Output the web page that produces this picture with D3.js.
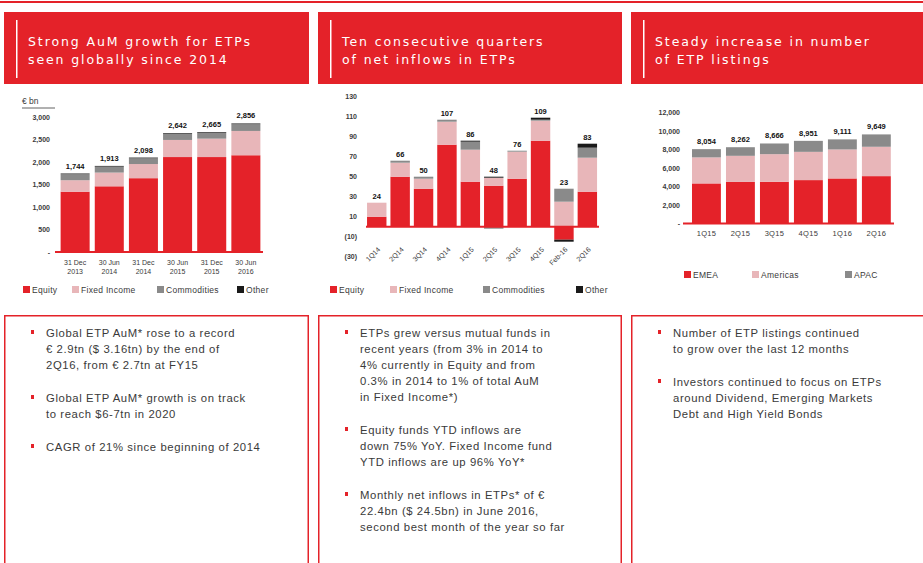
<!DOCTYPE html>
<html><head><meta charset="utf-8">
<script src="https://cdn.jsdelivr.net/npm/d3@7"></script>
<style>
body{margin:0;background:#fff;}
svg{display:block;font-family:"Liberation Sans",Arial,sans-serif;}
</style></head><body>
<svg id="c" width="923" height="563"></svg>
<script>
// ---------------- DATA ----------------
const headerTitles = [
  ["Strong AuM growth for ETPs", "seen globally since 2014"],
  ["Ten consecutive quarters", "of net inflows in ETPs"],
  ["Steady increase in number", "of ETP listings"]
];
const bulletTexts = [
  [["Global ETP AuM* rose to a record", "\u20ac 2.9tn ($ 3.16tn) by the end of", "2Q16, from \u20ac 2.7tn at FY15"],
   ["Global ETP AuM* growth is on track", "to reach $6-7tn in 2020"],
   ["CAGR of 21% since beginning of 2014"]],
  [["ETPs grew versus mutual funds in", "recent years (from 3% in 2014 to", "4% currently in Equity and from", "0.3% in 2014 to 1% of total AuM", "in Fixed Income*)"],
   ["Equity funds YTD inflows are", "down 75% YoY. Fixed Income fund", "YTD inflows are up 96% YoY*"],
   ["Monthly net inflows in ETPs* of \u20ac", "22.4bn ($ 24.5bn) in June 2016,", "second best month of the year so far"]],
  [["Number of ETP listings continued", "to grow over the last 12 months"],
   ["Investors continued to focus on ETPs", "around Dividend, Emerging Markets", "Debt and High Yield Bonds"]]
];

// Chart 1: AuM (EUR bn)
const aumDates = ["31 Dec 2013", "30 Jun 2014", "31 Dec 2014", "30 Jun 2015", "31 Dec 2015", "30 Jun 2016"];
const aumEquity = [1340, 1460, 1640, 2110, 2110, 2150];
const aumFixedIncome = [255, 305, 315, 380, 409, 540];
const aumCommodities = [135, 133, 128, 137, 131, 150];
const aumOther = [14, 15, 15, 15, 15, 16];
const aumTicks = [0, 500, 1000, 1500, 2000, 2500, 3000];

// Chart 2: net inflows (EUR bn)
const flowPeriods = ["1Q14", "2Q14", "3Q14", "4Q14", "1Q15", "2Q15", "3Q15", "4Q15", "Feb-16", "2Q16"];
const flowEquity = [10, 50, 38, 82, 45, 41, 48, 86, -13, 35];
const flowFixedIncome = [14, 14, 10, 23, 32, 8, 27, 20, 25, 34];
const flowCommodities = [0, 2, 2, 2, 8, -2, 1, 1, 13, 10];
const flowOther = [0, 0, 0, 0, 1, 1, 0, 2, -2, 4];
const flowTicks = [-30, -10, 10, 30, 50, 70, 90, 110, 130];

// Chart 3: number of ETP listings
const listPeriods = ["1Q15", "2Q15", "3Q15", "4Q15", "1Q16", "2Q16"];
const listEMEA = [4340, 4500, 4520, 4700, 4880, 5130];
const listAmericas = [2820, 2830, 2990, 3060, 3140, 3180];
const listAPAC = [894, 932, 1156, 1191, 1091, 1339];
const listTicks = [0, 2000, 4000, 6000, 8000, 10000, 12000];

const assetSeries = ["Equity", "Fixed Income", "Commodities", "Other"];
const regionSeries = ["EMEA", "Americas", "APAC"];

// ---------------- STYLE ----------------
const RED = "#e42229", PINK = "#e8b6b9", GRAY = "#8a8a8a", BLACK = "#1a1a1a";
const assetColors = [RED, PINK, GRAY, BLACK];
const regionColors = [RED, PINK, GRAY];
const TXT = "#3a3a3a";

const svg = d3.select("#c");
const panelX = [4, 318, 631];
const panelW = [305, 304, 300];

// top rule
svg.append("rect").attr("x", 0).attr("y", 1).attr("width", 923).attr("height", 2).attr("fill", RED);

// headers
headerTitles.forEach((lines, i) => {
  const g = svg.append("g").attr("transform", `translate(${panelX[i]},12)`);
  g.append("rect").attr("width", panelW[i]).attr("height", 72).attr("fill", RED);
  g.append("rect").attr("x", 12).attr("y", 8).attr("width", 1.5).attr("height", 58).attr("fill", "#fff");
  lines.forEach((t, j) => {
    g.append("text").attr("x", 24).attr("y", 34 + j * 18).attr("fill", "#fff")
      .style("font-family", "'DejaVu Sans',sans-serif").style("font-size", "12.5px")
      .style("letter-spacing", "1.9px").text(t);
  });
});

// bottom boxes
bulletTexts.forEach((bullets, i) => {
  const g = svg.append("g").attr("transform", `translate(${panelX[i]},315)`);
  g.append("rect").attr("x", 0.75).attr("y", 0.75).attr("width", panelW[i] - 1.5).attr("height", 260)
    .attr("fill", "none").attr("stroke", RED).attr("stroke-width", 1.5);
  let y = 22;
  bullets.forEach(lines => {
    g.append("rect").attr("x", 27).attr("y", y - 7).attr("width", 3).attr("height", 4).attr("fill", RED);
    lines.forEach(t => {
      g.append("text").attr("x", 42).attr("y", y).attr("fill", TXT)
        .style("font-size", "11.3px").style("letter-spacing", "0.6px").text(t);
      y += 16;
    });
    y += 17;
  });
});

function legend(g, names, colors, xs, y) {
  names.forEach((n, i) => {
    g.append("rect").attr("x", xs[i]).attr("y", y - 4).attr("width", 7).attr("height", 7).attr("fill", colors[i]);
    g.append("text").attr("x", xs[i] + 9).attr("y", y + 3).attr("fill", TXT)
      .style("font-size", "8.5px").style("letter-spacing", "0.3px").text(n);
  });
}

const fmt = d3.format(",");

// ---------------- CHART 1 ----------------
{
  const rows = aumDates.map((d, i) => ({key: d, "Equity": aumEquity[i], "Fixed Income": aumFixedIncome[i], "Commodities": aumCommodities[i], "Other": aumOther[i]}));
  const x = d3.scaleBand().domain(aumDates).range([55.5, 265.5]).paddingInner(0.15).paddingOuter(0.15);
  const y = d3.scaleLinear().domain([0, 3000]).range([252, 117]);
  const stack = d3.stack().keys(assetSeries)(rows);
  const g = svg.append("g");
  stack.forEach((s, k) => {
    g.selectAll(null).data(s).join("rect")
      .attr("x", d => x(d.data.key)).attr("width", x.bandwidth())
      .attr("y", d => y(d[1])).attr("height", d => y(d[0]) - y(d[1]))
      .attr("fill", assetColors[k]);
  });
  g.append("line").attr("x1", 55).attr("x2", 263).attr("y1", y(0)).attr("y2", y(0)).attr("stroke", RED).attr("stroke-width", 2);
  const ax = d3.axisLeft(y).tickValues(aumTicks).tickSize(0).tickPadding(0)
    .tickFormat(d => d === 0 ? "-" : fmt(d));
  const axg = g.append("g").attr("transform", "translate(50,0)").call(ax);
  axg.select(".domain").remove();
  axg.selectAll("text").attr("fill", TXT).style("font-size", "7px").style("font-weight", "bold").style("font-family", "'Liberation Sans',Arial,sans-serif");
  rows.forEach(r => {
    const tot = assetSeries.reduce((a, k) => a + r[k], 0);
    g.append("text").attr("x", x(r.key) + x.bandwidth() / 2).attr("y", y(tot) - 5).attr("text-anchor", "middle")
      .attr("fill", "#111").style("font-size", "7.5px").style("font-weight", "bold").text(fmt(tot));
    const parts = [r.key.slice(0, 6), r.key.slice(7)];
    parts.forEach((p, j) => g.append("text").attr("x", x(r.key) + x.bandwidth() / 2).attr("y", 265 + j * 9)
      .attr("text-anchor", "middle").attr("fill", TXT).style("font-size", "7px").text(p));
  });
  g.append("text").attr("x", 22).attr("y", 104).attr("fill", TXT).style("font-size", "8.5px").text("\u20ac bn");
  g.append("line").attr("x1", 22).attr("x2", 55).attr("y1", 108).attr("y2", 108).attr("stroke", TXT).attr("stroke-width", 0.8);
  legend(g, assetSeries, assetColors, [23, 72, 157, 237], 290);
}

// ---------------- CHART 2 ----------------
{
  const rows = flowPeriods.map((d, i) => ({key: d, "Equity": flowEquity[i], "Fixed Income": flowFixedIncome[i], "Commodities": flowCommodities[i], "Other": flowOther[i]}));
  const x = d3.scaleBand().domain(flowPeriods).range([364.7, 599.4]).paddingInner(0.17).paddingOuter(0.1);
  const y = d3.scaleLinear().domain([-30, 130]).range([256.7, 96.7]);
  const stack = d3.stack().keys(assetSeries).offset(d3.stackOffsetDiverging)(rows);
  const g = svg.append("g");
  stack.forEach((s, k) => {
    g.selectAll(null).data(s).join("rect")
      .attr("x", d => x(d.data.key)).attr("width", x.bandwidth())
      .attr("y", d => y(Math.max(d[0], d[1]))).attr("height", d => Math.abs(y(d[0]) - y(d[1])))
      .attr("fill", assetColors[k]);
  });
  g.append("line").attr("x1", 366).attr("x2", 599).attr("y1", y(0)).attr("y2", y(0)).attr("stroke", RED).attr("stroke-width", 2);
  const ax = d3.axisLeft(y).tickValues(flowTicks).tickSize(0).tickPadding(0)
    .tickFormat(d => d < 0 ? `(${-d})` : fmt(d));
  const axg = g.append("g").attr("transform", "translate(357,0)").call(ax);
  axg.select(".domain").remove();
  axg.selectAll("text").attr("fill", TXT).style("font-size", "7px").style("font-weight", "bold").style("font-family", "'Liberation Sans',Arial,sans-serif");
  rows.forEach(r => {
    const tot = assetSeries.reduce((a, k) => a + r[k], 0);
    const top = assetSeries.reduce((a, k) => a + Math.max(0, r[k]), 0);
    g.append("text").attr("x", x(r.key) + x.bandwidth() / 2).attr("y", y(top) - 4).attr("text-anchor", "middle")
      .attr("fill", "#111").style("font-size", "7.5px").style("font-weight", "bold").text(fmt(tot));
    g.append("text").attr("text-anchor", "end")
      .attr("transform", `translate(${x(r.key) + x.bandwidth() / 2 + 4},250) rotate(-45)`)
      .attr("fill", TXT).style("font-size", "7px").text(r.key);
  });
  legend(g, assetSeries, assetColors, [330, 390, 483, 576], 290);
}

// ---------------- CHART 3 ----------------
{
  const rows = listPeriods.map((d, i) => ({key: d, "EMEA": listEMEA[i], "Americas": listAmericas[i], "APAC": listAPAC[i]}));
  const x = d3.scaleBand().domain(listPeriods).range([686.9, 895.9]).paddingInner(0.15).paddingOuter(0.15);
  const y = d3.scaleLinear().domain([0, 12000]).range([223.5, 112.7]);
  const stack = d3.stack().keys(regionSeries)(rows);
  const g = svg.append("g");
  stack.forEach((s, k) => {
    g.selectAll(null).data(s).join("rect")
      .attr("x", d => x(d.data.key)).attr("width", x.bandwidth())
      .attr("y", d => y(d[1])).attr("height", d => y(d[0]) - y(d[1]))
      .attr("fill", regionColors[k]);
  });
  g.append("line").attr("x1", 683).attr("x2", 894).attr("y1", y(0)).attr("y2", y(0)).attr("stroke", RED).attr("stroke-width", 2);
  const ax = d3.axisLeft(y).tickValues(listTicks).tickSize(0).tickPadding(0)
    .tickFormat(d => d === 0 ? "-" : fmt(d));
  const axg = g.append("g").attr("transform", "translate(680,0)").call(ax);
  axg.select(".domain").remove();
  axg.selectAll("text").attr("fill", TXT).style("font-size", "7px").style("font-weight", "bold").style("font-family", "'Liberation Sans',Arial,sans-serif");
  rows.forEach(r => {
    const tot = regionSeries.reduce((a, k) => a + r[k], 0);
    g.append("text").attr("x", x(r.key) + x.bandwidth() / 2).attr("y", y(tot) - 5).attr("text-anchor", "middle")
      .attr("fill", "#111").style("font-size", "7.5px").style("font-weight", "bold").text(fmt(tot));
    g.append("text").attr("x", x(r.key) + x.bandwidth() / 2).attr("y", 236).attr("text-anchor", "middle")
      .attr("fill", TXT).style("font-size", "7.5px").style("letter-spacing", "0.3px").text(r.key);
  });
  legend(g, regionSeries, regionColors, [684, 752, 845], 275);
}
</script>
</body></html>
